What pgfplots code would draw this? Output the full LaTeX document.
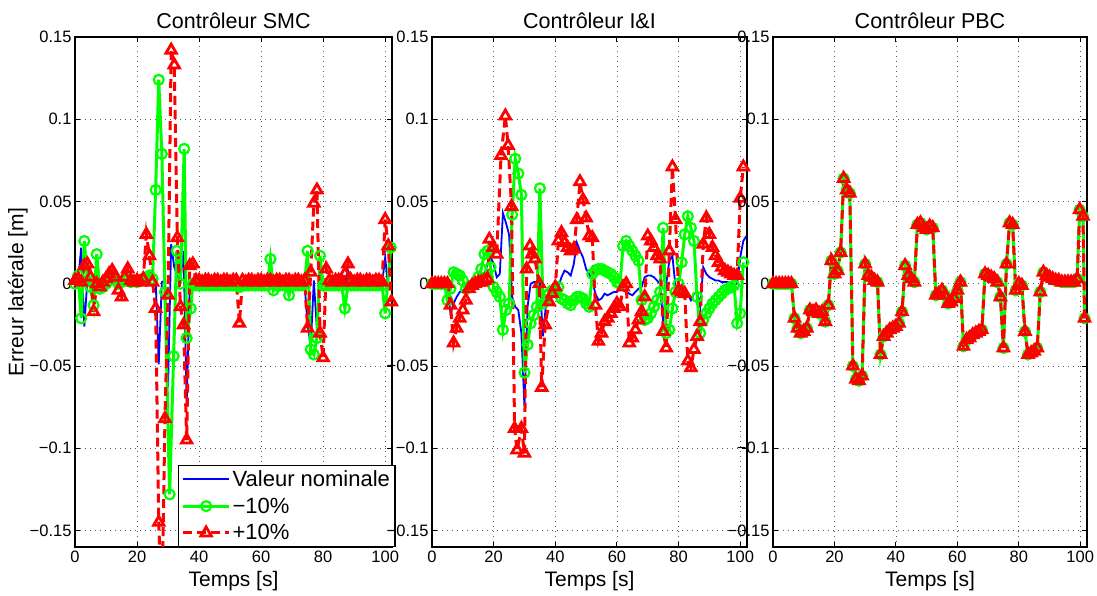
\documentclass[border=0pt]{standalone}
\usepackage{fontspec}
\setmainfont{Liberation Sans}
\usepackage{pgfplots}
\pgfplotsset{compat=1.18}
\definecolor{mblue}{rgb}{0,0,1}
\definecolor{mgreen}{rgb}{0,1,0}
\definecolor{mred}{rgb}{1,0,0}
\pgfplotsset{
  mystyle/.style={
    scale only axis, height=510pt,
    xmin=0, xmax=102.2, ymin=-0.16, ymax=0.15,
    xtick={0,20,40,60,80,100}, xticklabels={0,20,40,60,80,100},
    ytick={-0.15,-0.1,-0.05,0,0.05,0.1,0.15},
    yticklabels={−0.15,−0.1,−0.05,0,0.05,0.1,0.15},
    grid=major, major grid style={black!65, line width=0.8pt, dash pattern=on 1pt off 4pt},
    tick align=inside, xtick pos=both, ytick pos=both, major tick length=5pt,
    axis line style={line width=1.3pt},
    every tick/.style={black, line width=1pt},
    tick label style={font=\fontsize{16.5}{18}\selectfont},
    title style={font=\fontsize{21.5}{24}\selectfont, yshift=-1pt},
    label style={font=\fontsize{21}{24}\selectfont},
    xlabel={Temps [s]},
    xlabel style={yshift=-2pt},
    legend image code/.code={\draw[mark repeat=2,mark phase=2,##1] plot coordinates {(0pt,0pt) (23pt,0pt) (46pt,0pt)};},
  },
  nom/.style={mblue, line width=1.8pt, mark=none},
  moins/.style={mgreen, line width=3pt, mark=o, mark size=5pt, mark options={solid, line width=2.2pt}},
  plus/.style={mred, line width=3pt, dash pattern=on 9pt off 5pt, mark=triangle, mark size=6pt, mark options={solid, line width=2.8pt}},
}
\begin{document}
\begin{tikzpicture}
% ---------------- SMC ----------------
\begin{axis}[mystyle, at={(75pt,49pt)}, anchor=south west, width=317pt,
  title={Contrôleur SMC}, ylabel={Erreur latérale [m]}, ylabel style={yshift=-5pt},
  legend style={at={(0.325,0)}, anchor=south west, font=\fontsize{22}{26}\selectfont,
    draw=black, line width=1.2pt, fill=white, inner xsep=3pt, inner ysep=3pt, row sep=6pt,
    cells={anchor=west}},
  legend cell align=left]
\addplot[nom] coordinates {(0,0)(1,0.002)(2,0.022)(3,-0.026)(4,0.003)(5,0.001)(6,-0.005)(7,0.006)(8,0)(9,0.001)(10,0.002)(11,0.003)(12,0.004)(13,0.002)(14,0)(15,0.001)(16,0.002)(17,0.003)(18,0.001)(19,0.002)(20,0.001)(21,0.002)(22,0.003)(23,0.004)(24,0.006)(25,0.003)(26,0.002)(27,-0.049)(28,0.001)(29,0.002)(30,-0.063)(31,0.024)(32,0.010)(33,0.005)(34,0.002)(35,0.020)(36,-0.073)(37,0)(53,0)(54,-0.004)(55,0)(74,0)(75,-0.025)(76,-0.038)(77,0.002)(78,-0.028)(79,0.004)(80,0)(87,0)(88,0.008)(89,0)(99,0)(100,0.016)(101,-0.003)(102,0)};
\addlegendentry{Valeur nominale}
\addplot[moins] coordinates {(0,0)(1,0.005)(2,-0.021)(3,0.026)(4,0.002)(5,-0.002)(6,-0.013)(7,0.018)(8,-0.003)(9,-0.002)(10,0)(11,0.002)(12,0.004)(13,0.003)(14,0)(15,0.001)(16,0.002)(17,0.003)(18,0.001)(19,0.002)(20,0.001)(21,0.002)(22,0.003)(23,0.004)(24,0.005)(25,0.003)(26,0.057)(27,0.124)(28,0.079)(29,-0.005)(30.5,-0.128)(31.8,-0.044)(32.8,0.020)(34,0)(35.2,0.082)(36,-0.033)(37.3,-0.015)(38,0)(39,-0.001)(40,-0.001)(41,-0.001)(42,-0.001)(43,-0.001)(44,-0.001)(45,-0.001)(46,-0.001)(47,-0.001)(48,-0.001)(49,-0.001)(50,-0.001)(51,-0.001)(52,-0.001)(53,-0.002)(54,-0.001)(55,-0.001)(56,-0.001)(57,-0.001)(58,-0.001)(59,-0.001)(60,-0.001)(61,-0.001)(62,-0.001)(63,0.015)(64,-0.004)(65,-0.001)(66,-0.001)(67,-0.001)(68,-0.001)(69,-0.007)(70,-0.001)(71,-0.001)(72,-0.001)(73,-0.001)(74,0)(75,0.020)(76,-0.040)(77,-0.043)(78,-0.033)(79,0.017)(80,-0.001)(81,-0.001)(82,-0.001)(83,-0.001)(84,-0.001)(85,-0.001)(86,-0.001)(87,-0.015)(88,-0.001)(89,-0.001)(90,-0.001)(91,-0.001)(92,-0.001)(93,-0.001)(94,-0.001)(95,-0.001)(96,-0.001)(97,-0.001)(98,-0.001)(99,-0.001)(100,-0.018)(101.8,0.022)};
\addlegendentry{−10\%}
\addplot[plus] coordinates {(0,0.002)(1,0.003)(2,0.001)(3,0.011)(4,0.012)(5,0.004)(6,-0.017)(7,0)(8,-0.002)(9,0.001)(10,0.003)(11,0.006)(12,0.008)(13,0.004)(14,-0.004)(15,-0.008)(16,0.004)(17,0.009)(18,0.002)(19,0.001)(20,0.002)(21,0.001)(22,0.003)(23,0.030)(24,0.017)(25,0.001)(26,-0.015)(27,-0.145)(28,-0.20)(29,-0.082)(30,-0.007)(31,0.142)(32,0.133)(33,0.028)(34,-0.014)(35,-0.025)(36,-0.095)(37,0.011)(38,0.012)(39,0.002)(40,0.002)(41,0.001)(42,0.002)(43,0.002)(44,0.001)(45,0.002)(46,0.002)(47,0.001)(48,0.002)(49,0.002)(50,0.001)(51,0.002)(52,0.002)(53,-0.024)(54,0.002)(55,0.001)(56,0.002)(57,0.002)(58,0.001)(59,0.002)(60,0.002)(61,0.001)(62,0.002)(63,0.002)(64,0.001)(65,0.002)(66,0.002)(67,0.001)(68,0.002)(69,0.002)(70,0.001)(71,0.002)(72,0.002)(73,0.001)(74,0.002)(75,-0.027)(76,0.007)(77,0.049)(78,0.057)(79,-0.030)(80,-0.045)(81,0.009)(82,0.002)(83,0.001)(84,0.002)(85,0.002)(86,0.001)(87,0.006)(88,0.012)(89,0.002)(90,0.001)(91,0.002)(92,0.002)(93,0.001)(94,0.002)(95,0.002)(96,0.001)(97,0.002)(98,0.002)(99,0.001)(100,0.039)(101,0.023)(102,-0.011)};
\addlegendentry{+10\%}
\end{axis}
% ---------------- I&I ----------------
\begin{axis}[mystyle, at={(432pt,49pt)}, anchor=south west, width=315pt,
  title={Contrôleur I\&I}]
\addplot[nom] coordinates {(0,0)(5,0)(6,-0.018)(7,-0.012)(8,-0.008)(9,-0.005)(10,-0.004)(11,-0.003)(12,-0.002)(13,-0.001)(14,-0.001)(15,0)(16,0.002)(17,0.006)(18,0.012)(19,0.016)(20,0.012)(21,0.004)(22,0.006)(23,0.043)(24,0.037)(25,0.030)(26,-0.008)(27,-0.014)(28,-0.016)(29,-0.030)(30,-0.075)(31,-0.014)(32,0)(33,0.001)(34,0.001)(35,0)(36,-0.032)(37,-0.012)(38,-0.008)(39,-0.006)(40,-0.004)(41,-0.002)(42,0.004)(43,0.008)(44,0.007)(45,0.005)(46,0.012)(47,0.025)(48,0.020)(49,0.016)(50,0.009)(51,0.006)(52,0.002)(53,-0.006)(54,-0.010)(55,-0.009)(56,-0.006)(57,-0.007)(58,-0.006)(59,-0.005)(60,-0.005)(61,-0.003)(62,-0.004)(63,-0.005)(64,-0.006)(65,-0.007)(66,-0.005)(67,-0.003)(68,-0.002)(69,0.004)(70,0.005)(71,0.005)(72,0.004)(73,0.002)(74,0)(75,-0.023)(76,0)(77,0.014)(78,0.017)(79,-0.002)(80,-0.005)(81,-0.003)(82,-0.002)(83,-0.006)(84,-0.010)(85,-0.006)(86,-0.005)(87,-0.014)(88,0.010)(89,0.006)(90,0.004)(91,0.003)(92,0.002)(93,0.002)(94,0.001)(95,0.001)(96,0.001)(97,0)(98,0)(99,0)(100,0.016)(101,0.026)(102,0.029)};
\addplot[moins] coordinates {(0,0)(1,0)(2,0)(3,0)(4,0)(5,-0.010)(6,-0.003)(7,0.007)(8,0.006)(9,0.005)(10,0.002)(11,-0.003)(12,-0.002)(13,-0.001)(14,0)(15,0.004)(16,0.009)(17,0.018)(18,0.020)(19,0.010)(20,-0.002)(21,-0.005)(22,-0.008)(23,-0.028)(24,-0.016)(25,-0.012)(26,0.042)(27,0.076)(28,0.067)(29,0.054)(30,-0.054)(31,-0.037)(32,-0.024)(33,-0.019)(34,-0.014)(35,0.058)(36,-0.012)(37,-0.010)(38,-0.006)(39,-0.004)(40,-0.003)(41,-0.002)(42,-0.009)(43,-0.010)(44,-0.012)(45,-0.013)(46,-0.010)(47,-0.008)(48,-0.008)(49,-0.009)(50,-0.012)(51,-0.014)(52,0.006)(53,0.008)(54,0.009)(55,0.009)(56,0.008)(57,0.007)(58,0.006)(59,0.004)(60,0.001)(61,0)(62,0.023)(63,0.026)(64,0.023)(65,0.020)(66,0.017)(67,0.014)(68,-0.010)(69,-0.022)(70,-0.021)(71,-0.018)(72,-0.014)(73,-0.010)(74,-0.005)(75,0.034)(76,-0.030)(77,-0.028)(78,-0.015)(79,-0.005)(80,0)(81,0.013)(82,0.030)(83,0.041)(84,0.034)(85,0.026)(86,-0.008)(87,-0.030)(88,-0.022)(89,-0.018)(90,-0.015)(91,-0.012)(92,-0.010)(93,-0.008)(94,-0.006)(95,-0.004)(96,-0.003)(97,-0.002)(98,-0.001)(99,-0.024)(100,-0.018)(101,0.013)};
\addplot[plus] coordinates {(0,0)(1,0)(2,0)(3,0)(4,0)(5,0)(6,-0.013)(7,-0.036)(8,-0.027)(9,-0.021)(10,-0.016)(11,-0.010)(12,-0.003)(13,-0.001)(14,0)(15,0.001)(16,0.001)(17,0.002)(18,0.003)(18.6,0.027)(19.8,0.022)(21,0.018)(22.4,0.078)(23.8,0.102)(24.7,0.084)(25.8,0.047)(26.8,-0.088)(27.6,-0.101)(29,-0.088)(30,-0.103)(30.7,0.009)(31.8,0.023)(32.4,0.018)(33.4,0.015)(34.8,0)(35.6,-0.063)(36.7,-0.025)(38,-0.011)(39,-0.006)(40,-0.002)(41,0.026)(42,0.031)(43,0.025)(44,0.022)(45,0.020)(46,0.021)(47,0.039)(48,0.062)(49,0.051)(50,0.040)(51,0.029)(52,0.028)(53,-0.013)(54,-0.035)(55,-0.030)(56,-0.023)(57,-0.021)(58,-0.018)(59,-0.015)(60,-0.012)(61,-0.014)(62,-0.002)(63,0)(64,-0.036)(65,-0.033)(66,-0.028)(67,-0.022)(68,-0.017)(69,-0.008)(70,0.029)(71,0.026)(72,0.022)(73,0.017)(74,0.015)(75,-0.029)(76,-0.039)(77,0.020)(78,0.071)(79,0.039)(80,-0.004)(81,-0.005)(82,-0.006)(83,-0.047)(84,-0.051)(85,-0.040)(86,-0.032)(87,-0.023)(88,0.024)(89,0.040)(90,0.030)(91,0.022)(92,0.017)(93,0.013)(94,0.010)(95,0.008)(96,0.007)(97,0.006)(98,0.005)(99,0.005)(100,0.052)(101,0.071)};
\end{axis}
% ---------------- PBC ----------------
\begin{axis}[mystyle, at={(773pt,49pt)}, anchor=south west, width=314pt,
  title={Contrôleur PBC}]
\pgfplotsinvokeforeach{nom,moins,plus}{
\addplot[#1] coordinates {(0,0)(1,0)(2,0)(3,0)(4,0)(5,0)(6,0)(7,-0.021)(8,-0.027)(9,-0.030)(10,-0.029)(11,-0.027)(12,-0.016)(13,-0.017)(14,-0.016)(15,-0.018)(16,-0.017)(17,-0.023)(18,-0.013)(19,0.014)(20,0.006)(21,0.008)(22,0.019)(23,0.064)(24,0.057)(25,0.055)(26,-0.050)(27,-0.058)(28,-0.059)(29,-0.056)(30,0.012)(31,0.005)(32,0.004)(33,0.002)(34,0.001)(35,-0.043)(36,-0.032)(37,-0.030)(38,-0.028)(39,-0.027)(40,-0.026)(41,-0.024)(42,-0.017)(43,0.011)(44,0.005)(45,0.003)(46,0.001)(47,0.036)(48,0.037)(49,0.034)(50,0.033)(51,0.035)(52,0.034)(53,-0.007)(54,-0.006)(55,-0.004)(56,-0.007)(57,-0.012)(58,-0.011)(59,-0.009)(60,-0.004)(61,0.001)(62,-0.038)(63,-0.034)(64,-0.033)(65,-0.031)(66,-0.030)(67,-0.029)(68,-0.028)(69,0.006)(70,0.005)(71,0.004)(72,0.003)(73,0.001)(74,-0.008)(75,-0.039)(76,0.012)(77,0.037)(78,0.036)(79,-0.004)(80,0)(81,-0.001)(82,-0.029)(83,-0.043)(84,-0.042)(85,-0.041)(86,-0.039)(87,-0.005)(88,0.007)(89,0.005)(90,0.004)(91,0.003)(92,0.002)(93,0.002)(94,0.001)(95,0.001)(96,0.001)(97,0.001)(98,0.001)(99,0.003)(99.8,0.045)(100.9,0.041)(101.4,-0.021)};
}
\end{axis}
\pgfresetboundingbox
\path (0pt,0pt) rectangle (1097pt,596pt);
\end{tikzpicture}
\end{document}
